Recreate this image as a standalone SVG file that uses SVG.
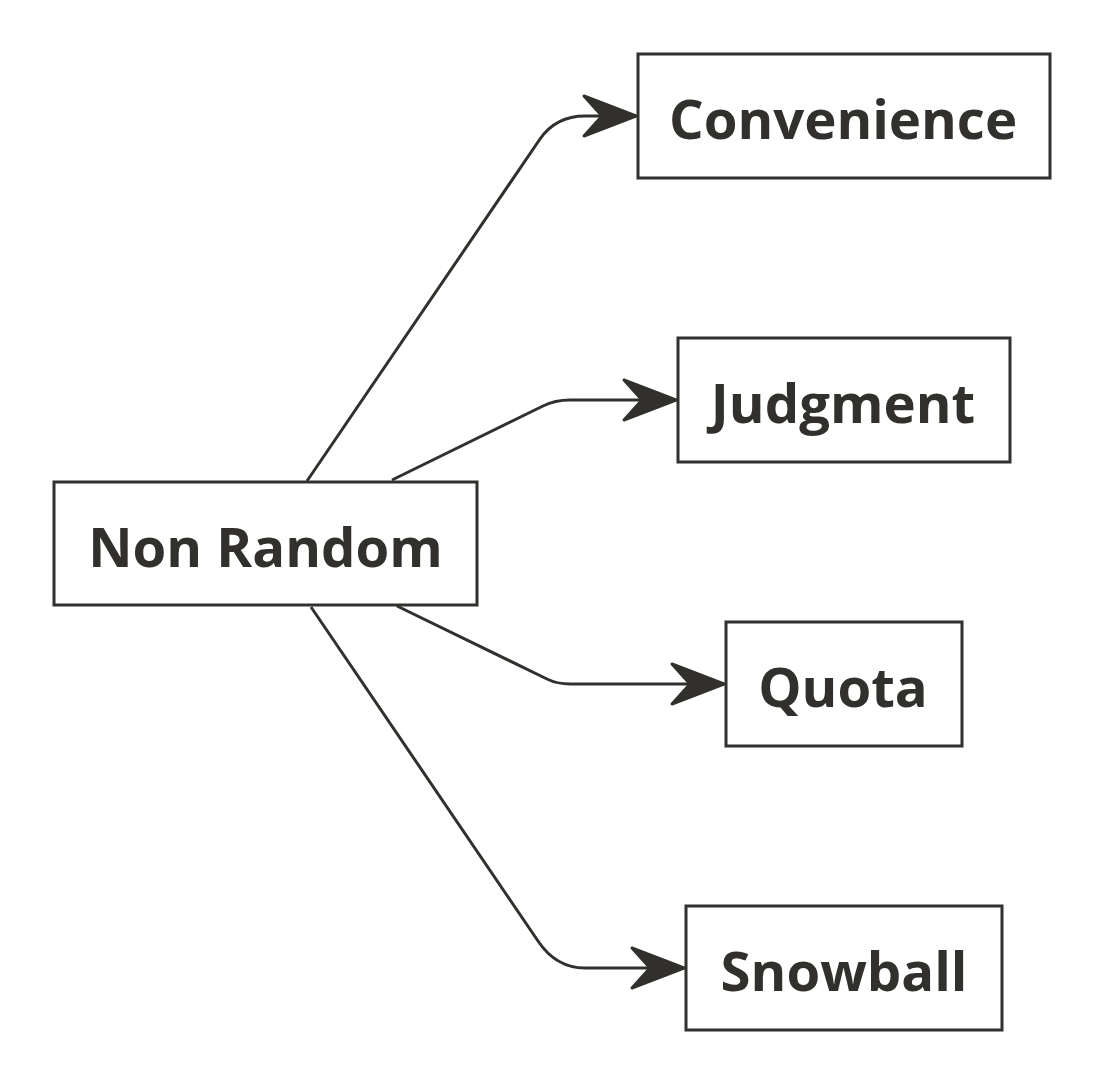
<svg xmlns="http://www.w3.org/2000/svg" width="1100" height="1080" viewBox="0 0 1100 1080">
<style>
.box{fill:#ffffff;stroke:#32302d;stroke-width:3}
.lbl{font-family:"Open Sans","Noto Sans",sans-serif;font-weight:bold;font-size:54.5px;fill:#32302d;text-anchor:middle;dominant-baseline:central}
.edge{fill:none;stroke:#32302d;stroke-width:3;marker-end:url(#arr)}
</style>
<defs>
<marker id="arr" markerUnits="userSpaceOnUse" viewBox="-58 -26 62 52" markerWidth="62" markerHeight="52" refX="0" refY="0" orient="auto">
<path d="M0,0 L-52,-20 L-34,0 L-52,20 Z" fill="#32302d" stroke="#32302d" stroke-width="3" stroke-linejoin="round"/>
</marker>
</defs>
<rect width="1100" height="1080" fill="#ffffff"/>
<g id="connectors">
<path class="edge" d="M307,481 L540,139 Q556,116 585,116 L636,116"/>
<path class="edge" d="M392,480 L543,406 Q555,400 570,400 L676,400"/>
<path class="edge" d="M397,606 L547,679 Q557,684 570,684 L724,684"/>
<path class="edge" d="M311,607 L538,941 Q556,968 585,968 L684,968"/>
</g>
<g id="non-random">
<rect class="box" x="54" y="482" width="423" height="123"/>
<text class="lbl" x="265.5" y="546">Non Random</text>
</g>
<g id="convenience">
<rect class="box" x="638" y="54" width="412" height="124"/>
<text class="lbl" x="843" y="118">Convenience</text>
</g>
<g id="judgment">
<rect class="box" x="678" y="338" width="332" height="124"/>
<text class="lbl" x="843" y="402">Judgment</text>
</g>
<g id="quota">
<rect class="box" x="726" y="622" width="236" height="124"/>
<text class="lbl" x="843" y="686">Quota</text>
</g>
<g id="snowball">
<rect class="box" x="686" y="906" width="316" height="124"/>
<text class="lbl" x="844" y="970">Snowball</text>
</g>
</svg>
